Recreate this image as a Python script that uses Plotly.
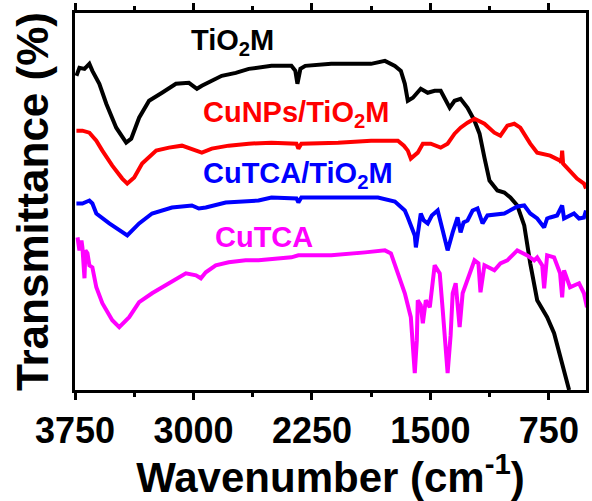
import plotly.graph_objects as go

# FTIR spectra (wavenumber in cm-1, transmittance in arbitrary offset units)
wn_tio2m = [3741, 3722, 3690, 3659, 3640, 3596, 3552, 3489, 3426, 3394, 3344, 3281, 3199,
            3111, 3029, 2978, 2947, 2884, 2821, 2732, 2650, 2506, 2380, 2355, 2342, 2323,
            2292, 2128, 1977, 1876, 1788, 1725, 1687, 1662, 1643, 1611, 1561, 1517, 1473,
            1435, 1378, 1347, 1309, 1265, 1221, 1189, 1158, 1126, 1076, 1032, 994, 950,
            906, 868, 824, 761, 717, 685, 654, 622]
t_tio2m = [315, 323, 322, 327, 320, 307, 287, 263, 248, 252, 273, 290, 298,
           307, 308, 302, 305, 310, 315, 318, 322, 325, 325, 320, 307, 322,
           325, 327, 327, 327, 330, 325, 320, 307, 290, 293, 302, 298, 300,
           300, 283, 290, 292, 283, 270, 257, 233, 210, 200, 198, 193, 185,
           165, 127, 90, 73, 57, 37, 17, 0]

wn_cunps = [3741, 3703, 3659, 3615, 3577, 3514, 3451, 3419, 3375, 3325, 3236, 3155, 3073,
            2984, 2947, 2884, 2777, 2650, 2506, 2348, 2336, 2317, 2084, 1876, 1706, 1668,
            1643, 1624, 1580, 1548, 1498, 1435, 1391, 1347, 1309, 1265, 1221, 1158, 1095,
            1057, 1013, 969, 931, 868, 824, 742, 679, 672, 666, 660, 635, 572, 528, 515]
t_cunps = [260, 260, 258, 250, 240, 225, 212, 207, 213, 227, 240, 243, 245,
           240, 238, 242, 245, 247, 248, 247, 242, 247, 248, 250, 250, 245,
           240, 232, 238, 247, 247, 243, 247, 257, 263, 268, 272, 267, 258,
           255, 265, 267, 263, 247, 238, 235, 230, 228, 240, 227, 223, 212, 207, 202]

wn_cutca_tio2m = [3741, 3703, 3659, 3640, 3615, 3533, 3419, 3344, 3262, 3136, 3010, 2966,
                  2922, 2796, 2588, 2506, 2348, 2336, 2317, 2084, 1832, 1725, 1662, 1643,
                  1599, 1592, 1573, 1561, 1542, 1517, 1491, 1454, 1422, 1391, 1359, 1328,
                  1309, 1290, 1265, 1233, 1202, 1170, 1139, 1095, 1032, 950, 906, 868, 824,
                  780, 761, 742, 698, 666, 654, 591, 559, 528, 515]
t_cutca_tio2m = [187, 187, 190, 187, 177, 167, 155, 167, 177, 183, 185, 182,
                 183, 188, 190, 193, 192, 188, 193, 193, 193, 189, 180, 173,
                 155, 143, 165, 177, 170, 167, 175, 180, 160, 140, 158, 173,
                 158, 168, 170, 180, 182, 167, 175, 176, 177, 184, 185, 177, 172,
                 163, 172, 173, 175, 185, 172, 177, 172, 173, 180]

wn_cutca = [3734, 3722, 3709, 3703, 3690, 3684, 3671, 3659, 3640, 3615, 3577, 3514, 3470,
            3407, 3344, 3262, 3155, 3048, 2984, 2953, 2922, 2859, 2777, 2670, 2588, 2380,
            2336, 2128, 1913, 1788, 1750, 1706, 1662, 1624, 1611, 1599, 1586, 1580, 1561,
            1548, 1529, 1504, 1473, 1441, 1422, 1403, 1391, 1372, 1359, 1340, 1315, 1296,
            1265, 1221, 1196, 1183, 1158, 1095, 1057, 1013, 950, 887, 843, 824, 792, 780,
            761, 717, 679, 666, 654, 616, 559, 528, 509]
t_cutca = [153, 140, 150, 143, 112, 140, 137, 125, 123, 103, 87, 70, 63,
           73, 88, 97, 107, 117, 115, 112, 118, 125, 128, 130, 130, 133,
           135, 135, 138, 140, 137, 117, 97, 73, 45, 17, 50, 90, 85,
           67, 90, 83, 125, 117, 80, 35, 17, 55, 97, 107, 63, 97,
           110, 130, 127, 98, 125, 120, 127, 130, 140, 135, 130, 133, 125, 102,
           135, 133, 117, 93, 120, 103, 107, 97, 83]

series = [
    ("TiO<sub>2</sub>M", wn_tio2m, t_tio2m, "#000000", 3029, 349),
    ("CuNPs/TiO<sub>2</sub>M", wn_cunps, t_cunps, "#FF0000", 2953, 277),
    ("CuTCA/TiO<sub>2</sub>M", wn_cutca_tio2m, t_cutca_tio2m, "#0000FF", 2953, 216),
    ("CuTCA", wn_cutca, t_cutca, "#FF00FF", 2877, 153),
]

FONT = "Liberation Sans, Arial, sans-serif"

fig = go.Figure()
for name, x, y, color, lx, ly in series:
    fig.add_trace(go.Scatter(x=x, y=y, mode="lines", name=name,
                             line=dict(color=color, width=4, shape="linear"),
                             showlegend=False))
    fig.add_annotation(x=lx, y=ly, text=name, showarrow=False,
                       xanchor="left", yanchor="middle",
                       font=dict(family=FONT, size=29, color=color, weight="bold"))

fig.update_xaxes(
    range=[3750, 515],
    tickvals=[3750, 3000, 2250, 1500, 750],
    ticktext=["3750", "3000", "2250", "1500", "750"],
    ticks="outside", ticklen=7, tickwidth=2.5, tickcolor="black",
    minor=dict(tickvals=[3375, 2625, 1875, 1125], ticks="outside", ticklen=4,
               tickwidth=2.5, tickcolor="black"),
    showline=True, linewidth=3, linecolor="black", mirror="ticks",
    showgrid=False, zeroline=False,
    tickfont=dict(family=FONT, size=36, color="black", weight="bold"),
    title=dict(text="Wavenumber (cm<sup>-1</sup>)", standoff=8,
               font=dict(family=FONT, size=42, color="black", weight="bold")),
)
fig.update_yaxes(
    range=[0, 378],
    showticklabels=False, ticks="",
    showline=True, linewidth=3, linecolor="black", mirror=True,
    showgrid=False, zeroline=False,
    title=dict(text="Transmittance (%)", standoff=10,
               font=dict(family=FONT, size=44, color="black", weight="bold")),
)
fig.update_layout(
    width=592, height=501,
    margin=dict(l=75, r=3, t=12, b=111),
    plot_bgcolor="white", paper_bgcolor="white",
)
fig.write_html("out.html")
